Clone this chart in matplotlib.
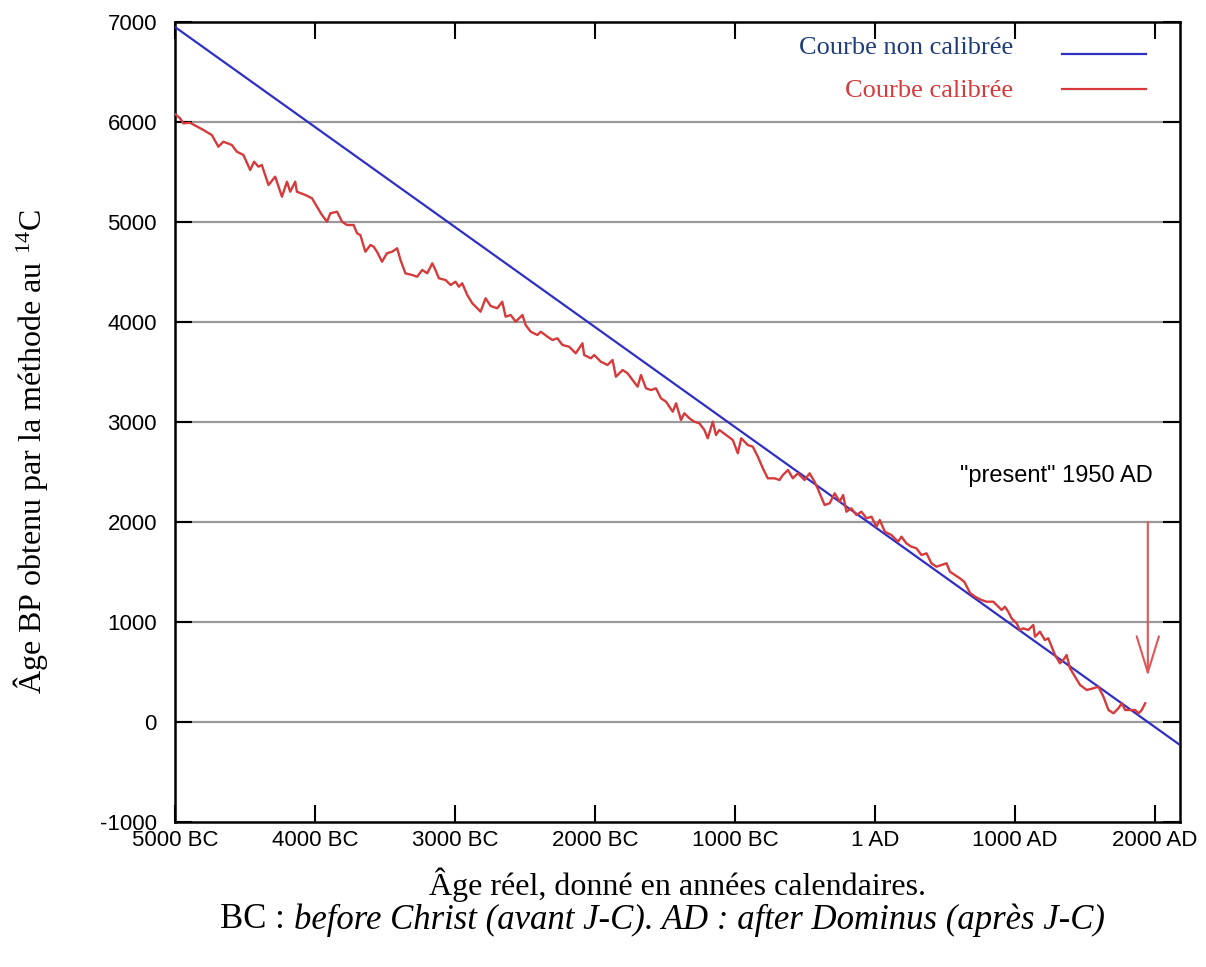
import matplotlib
matplotlib.use('Agg')
import matplotlib.pyplot as plt

plt.rcParams['mathtext.fontset'] = 'custom'
plt.rcParams['mathtext.rm'] = 'Liberation Serif'
plt.rcParams['mathtext.it'] = 'Liberation Serif:italic'
plt.rcParams['axes.unicode_minus'] = False

# calendar year (BC negative) -> radiocarbon age BP
blue_years = [-5000, -4000, -3000, -2000, -1000, 1, 1000, 2180]
blue_vals = [6950, 5950, 4950, 3950, 2950, 1950, 950, -230]

red_years = [-5000, -4964, -4940, -4893, -4797, -4737, -4690, -4654, -4594, -4558,
             -4511, -4463, -4435, -4404, -4380, -4332, -4284, -4236, -4200, -4177,
             -4141, -4129, -4069, -4021, -3986, -3950, -3914, -3890, -3842, -3807,
             -3771, -3724, -3699, -3676, -3640, -3604, -3581, -3557, -3521, -3486,
             -3449, -3413, -3389, -3354, -3306, -3270, -3234, -3198, -3162, -3139,
             -3115, -3067, -3031, -2996, -2972, -2948, -2912, -2876, -2840, -2817,
             -2781, -2745, -2698, -2662, -2638, -2602, -2566, -2518, -2495, -2459,
             -2411, -2387, -2339, -2303, -2268, -2232, -2184, -2137, -2089, -2077,
             -2029, -2005, -1958, -1910, -1874, -1850, -1802, -1767, -1731, -1695,
             -1671, -1635, -1600, -1564, -1528, -1492, -1444, -1420, -1385, -1361,
             -1325, -1290, -1254, -1218, -1194, -1158, -1135, -1111, -1063, -1015,
             -979, -955, -908, -872, -836, -800, -765, -717, -681, -657,
             -621, -586, -550, -502, -466, -430, -407, -359, -323, -287,
             -251, -227, -203, -168, -132, -96, -60, -24, 11, 35,
             71, 118, 166, 190, 225, 261, 297, 333, 369, 404,
             440, 476, 512, 536, 572, 607, 640, 680, 720, 762,
             798, 846, 882, 906, 929, 953, 977, 1013, 1036, 1060,
             1096, 1132, 1144, 1179, 1215, 1239, 1263, 1287, 1322, 1346,
             1370, 1394, 1430, 1466, 1514, 1561, 1597, 1633, 1669, 1705,
             1740, 1764, 1788, 1824, 1860, 1884, 1907, 1931]
red_vals = [6080, 6037, 5987, 5993, 5920, 5870, 5753, 5803, 5770, 5703,
            5670, 5520, 5603, 5553, 5570, 5370, 5453, 5253, 5403, 5303,
            5403, 5303, 5270, 5237, 5153, 5070, 5003, 5087, 5103, 5003,
            4970, 4970, 4887, 4870, 4703, 4770, 4753, 4703, 4603, 4687,
            4703, 4737, 4620, 4487, 4470, 4453, 4520, 4487, 4587, 4520,
            4437, 4420, 4370, 4403, 4353, 4387, 4270, 4187, 4137, 4103,
            4237, 4160, 4137, 4203, 4053, 4070, 4003, 4070, 3970, 3903,
            3870, 3903, 3853, 3820, 3837, 3770, 3753, 3687, 3787, 3670,
            3637, 3670, 3603, 3570, 3620, 3453, 3520, 3487, 3420, 3353,
            3470, 3337, 3320, 3337, 3237, 3203, 3103, 3187, 3020, 3087,
            3037, 3003, 2987, 2920, 2837, 3003, 2870, 2920, 2870, 2820,
            2687, 2837, 2770, 2753, 2653, 2537, 2437, 2437, 2420, 2470,
            2520, 2437, 2487, 2420, 2487, 2400, 2330, 2170, 2187, 2287,
            2203, 2270, 2103, 2137, 2070, 2103, 2037, 2053, 1953, 2020,
            1903, 1870, 1803, 1853, 1787, 1753, 1737, 1670, 1687, 1587,
            1553, 1570, 1587, 1503, 1470, 1437, 1400, 1290, 1250, 1220,
            1203, 1203, 1153, 1120, 1153, 1103, 1037, 987, 920, 937,
            920, 970, 853, 903, 820, 837, 753, 670, 587, 620,
            670, 537, 453, 370, 320, 337, 353, 253, 120, 87,
            137, 187, 120, 120, 120, 87, 120, 187]

xticks = [-5000, -4000, -3000, -2000, -1000, 1, 1000, 2000]
xticklabels = ['5000 BC', '4000 BC', '3000 BC', '2000 BC', '1000 BC', '1 AD', '1000 AD', '2000 AD']
yticks = [-1000, 0, 1000, 2000, 3000, 4000, 5000, 6000, 7000]

BLUE = '#2f2fc4'
RED = '#d63a3a'

fig = plt.figure(figsize=(12.06, 9.67), dpi=100)
ax = fig.add_axes([175 / 1206, 1 - 822 / 967, 1005 / 1206, 800 / 967])

for y in yticks[1:-1]:
    ax.axhline(y, color='#999999', lw=1.6, zorder=1)

ax.plot(blue_years, blue_vals, color=BLUE, lw=1.6, zorder=3)
ax.plot(red_years, red_vals, color=RED, lw=1.7, zorder=4)

ax.set_xlim(-5000, 2180)
ax.set_ylim(-1000, 7000)
ax.set_xticks(xticks)
ax.set_xticklabels(xticklabels)
ax.set_yticks(yticks)
ax.tick_params(direction='in', length=12, width=1.5, top=True, right=True,
               labelsize=16, labelfontfamily='Liberation Sans')
ax.tick_params(axis='x', pad=6)
ax.tick_params(axis='y', pad=13)
for s in ax.spines.values():
    s.set_linewidth(1.8)

# legend, gnuplot style
ax.text(0.834, 0.968, 'Courbe non calibrée', transform=ax.transAxes, ha='right', va='center',
        family='Liberation Serif', fontsize=19, color='#1f3c7c')
ax.text(0.834, 0.914, 'Courbe calibrée', transform=ax.transAxes, ha='right', va='center',
        family='Liberation Serif', fontsize=19, color=RED)
ax.plot([0.883, 0.966], [0.96, 0.96], transform=ax.transAxes, color=BLUE, lw=1.6)
ax.plot([0.883, 0.966], [0.916, 0.916], transform=ax.transAxes, color=RED, lw=1.6)

ax.annotate('', xy=(1950, 460), xytext=(1950, 2000),
            arrowprops=dict(arrowstyle='->,head_length=1.3,head_width=0.4', color='#e05555',
                            lw=1.5, shrinkA=0, shrinkB=0, mutation_scale=20))
ax.text(1300, 2460, '"present" 1950 AD', ha='center', va='center',
        family='Liberation Sans', fontsize=17)

fig.text(0.025, 1 - 452 / 967, 'Âge BP obtenu par la méthode au $^{14}$C', rotation=90,
         ha='center', va='center', family='Liberation Serif', fontsize=23)
fig.text(677 / 1206, 1 - 885 / 967, 'Âge réel, donné en années calendaires.',
         ha='center', va='center', family='Liberation Serif', fontsize=23)
fig.text(294 / 1206, 1 - 920 / 967, 'BC : ', ha='right', va='center',
         family='Liberation Serif', fontsize=25)
fig.text(294 / 1206, 1 - 920 / 967, 'before Christ (avant J-C). AD : after Dominus (après J-C)',
         ha='left', va='center', family='Liberation Serif', style='italic', fontsize=25)

fig.savefig('out.png', dpi=100)
